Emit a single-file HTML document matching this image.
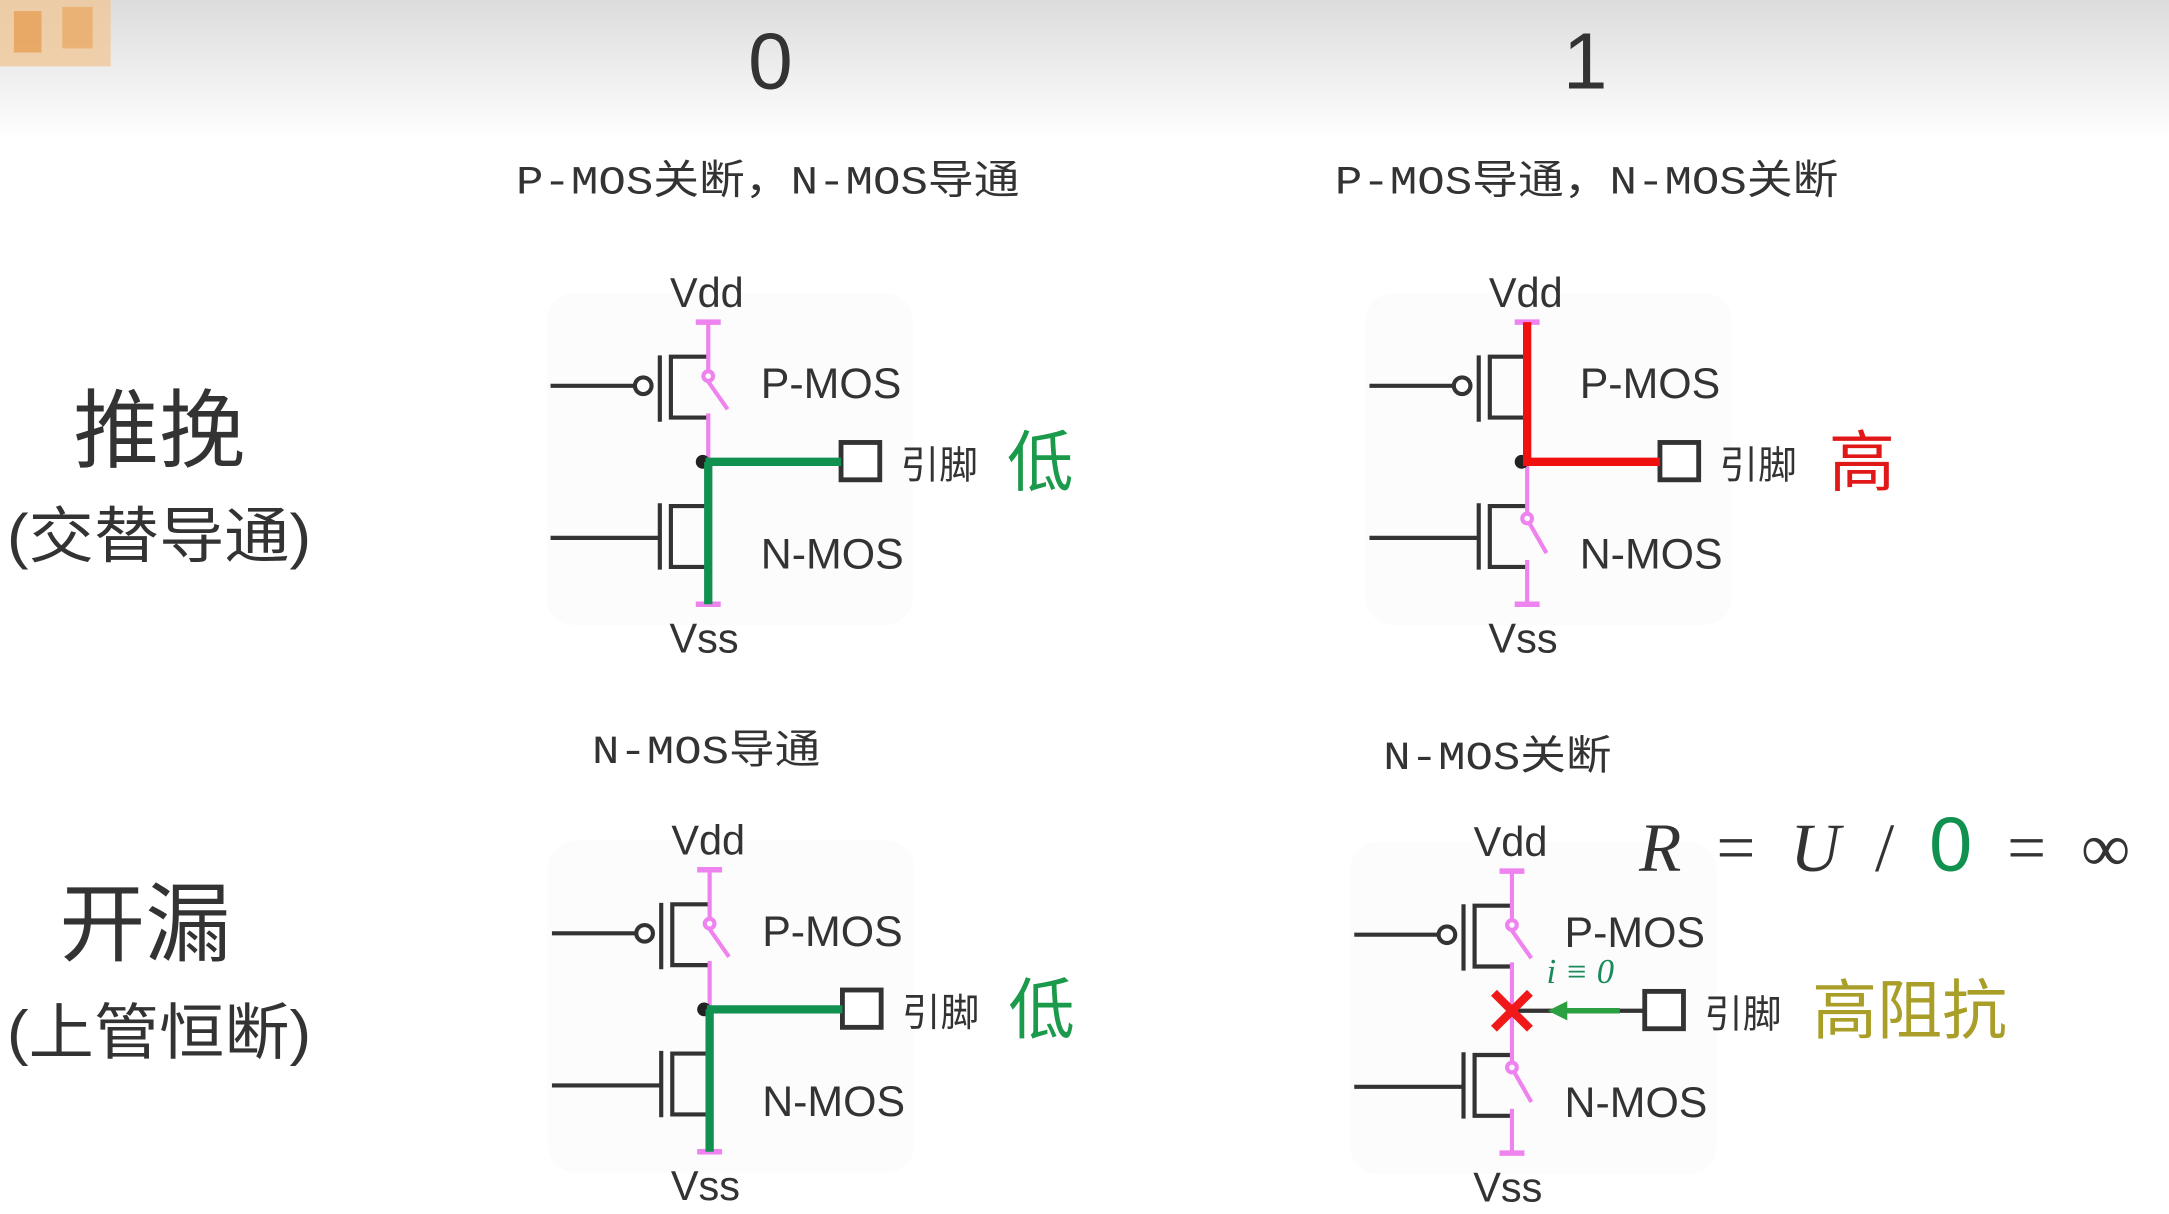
<!DOCTYPE html>
<html><head><meta charset="utf-8"><style>
html,body{margin:0;padding:0;background:#fff;width:2169px;height:1214px;overflow:hidden}
svg{display:block}
text{font-family:"Liberation Sans","Noto Sans CJK SC",sans-serif;fill:#333}
.mono{font-family:"Liberation Mono","Noto Sans CJK SC",monospace}
</style></head><body>
<svg width="2169" height="1214" viewBox="0 0 1568 878" preserveAspectRatio="none" xmlns="http://www.w3.org/2000/svg">
<defs>
<linearGradient id="hg" x1="0" y1="0" x2="0" y2="1">
<stop offset="0" stop-color="#dcdcdc"/><stop offset="1" stop-color="#ffffff"/>
</linearGradient>
<g id="base">
<rect x="395" y="212" width="265" height="240" rx="20" fill="#fcfcfc"/>
<path d="M398 279H459 M477 257V305 M512 258H485V302H512 M398 389H477 M477 364V412 M512 366H485V410H512" stroke="#333" stroke-width="3" fill="none"/>
<circle cx="465" cy="279" r="6" fill="#fff" stroke="#333" stroke-width="3"/>
<path d="M503 233H521 M503 437H521" stroke="#ee82ee" stroke-width="4"/>
<text x="511" y="222" font-size="30" text-anchor="middle">Vdd</text>
<text x="509" y="472" font-size="30" text-anchor="middle">Vss</text>
<text x="550" y="288" font-size="31">P-MOS</text>
<text x="550" y="411" font-size="31">N-MOS</text>
<rect x="608" y="320" width="28" height="27" fill="#fff" stroke="#333" stroke-width="3.5"/>
<text x="651" y="346" font-size="28">引脚</text>
</g>
<g id="psw" fill="none" stroke="#ee82ee" stroke-width="3">
<path d="M512 233V268 M512 276 L526 296 M512 299V334"/><circle cx="512" cy="272" r="3.5"/>
</g>
<g id="nsw" fill="none" stroke="#ee82ee" stroke-width="3">
<path d="M512 334V371 M514 379 L526 400 M512 405V437"/><circle cx="512" cy="375" r="3.5"/>
</g>
</defs>
<rect width="1568" height="878" fill="#fff"/>
<rect width="1568" height="100" fill="url(#hg)"/>
<rect x="0" y="0" width="80" height="48" fill="#f0c89a" opacity="0.8"/>
<rect x="10" y="8" width="20" height="30" fill="#e59a4a" opacity="0.7"/>
<rect x="45" y="5" width="22" height="30" fill="#e8a860" opacity="0.7"/>
<text x="557" y="64" font-size="58" text-anchor="middle">0</text>
<text x="1146" y="64" font-size="58" text-anchor="middle">1</text>
<text class="mono" x="373" y="140" font-size="29" textLength="364" lengthAdjust="spacingAndGlyphs">P-MOS关断，N-MOS导通</text>
<text class="mono" x="965" y="140" font-size="29" textLength="364" lengthAdjust="spacingAndGlyphs">P-MOS导通，N-MOS关断</text>
<text class="mono" x="428" y="552" font-size="29" textLength="165" lengthAdjust="spacingAndGlyphs">N-MOS导通</text>
<text class="mono" x="1000" y="556" font-size="29" textLength="165" lengthAdjust="spacingAndGlyphs">N-MOS关断</text>
<text x="115" y="333" font-size="62" text-anchor="middle">推挽</text>
<text x="5" y="403" font-size="44" textLength="220" lengthAdjust="spacingAndGlyphs">(交替导通)</text>
<text x="105" y="690" font-size="62" text-anchor="middle">开漏</text>
<text x="5" y="762" font-size="44" textLength="220" lengthAdjust="spacingAndGlyphs">(上管恒断)</text>

<!-- TL -->
<g>
<use href="#base"/><use href="#psw"/>
<circle cx="508" cy="334" r="5" fill="#222"/>
<path d="M512 334V437 M510 334H608" stroke="#119150" stroke-width="6" fill="none"/>
<text x="728" y="351" font-size="48" style="fill:#1a9a4a">低</text>
</g>
<!-- TR -->
<g transform="translate(592,0)">
<use href="#base"/><use href="#nsw"/>
<circle cx="508" cy="334" r="5" fill="#222"/>
<path d="M512 233V334H608" stroke="#f01010" stroke-width="6" fill="none"/>
<text x="730" y="351" font-size="48" style="fill:#e01818">高</text>
</g>
<!-- BL -->
<g transform="translate(1,396)">
<use href="#base"/><use href="#psw"/>
<circle cx="508" cy="334" r="5" fill="#222"/>
<path d="M512 334V437 M510 334H608" stroke="#119150" stroke-width="6" fill="none"/>
<text x="728" y="351" font-size="48" style="fill:#1a9a4a">低</text>
</g>
<!-- BR -->
<g transform="translate(581,397)">
<use href="#base"/><use href="#psw"/><use href="#nsw"/>
<path d="M514 334H608" stroke="#333" stroke-width="3"/>
<path d="M545 334H590" stroke="#2aa040" stroke-width="4"/>
<path d="M538 334L552 327L552 341Z" fill="#2aa040"/>
<path d="M499 321L525 347 M525 321L499 347" stroke="#f01818" stroke-width="6"/>
<text x="537" y="314" font-size="25" font-style="italic" style="fill:#1a8a5a;font-family:'Liberation Serif',serif">i ≡ 0</text>
<text x="729" y="350" font-size="47" style="fill:#a89e28">高阻抗</text>
</g>
<text x="1185" y="630" font-size="50" textLength="355" lengthAdjust="spacing" style="font-family:'Liberation Serif',serif;fill:#333"><tspan font-style="italic">R</tspan> = <tspan font-style="italic">U</tspan> / <tspan font-size="56" style="fill:#119150;font-family:'Liberation Sans',sans-serif">0</tspan> = ∞</text>
</svg>
</body></html>
